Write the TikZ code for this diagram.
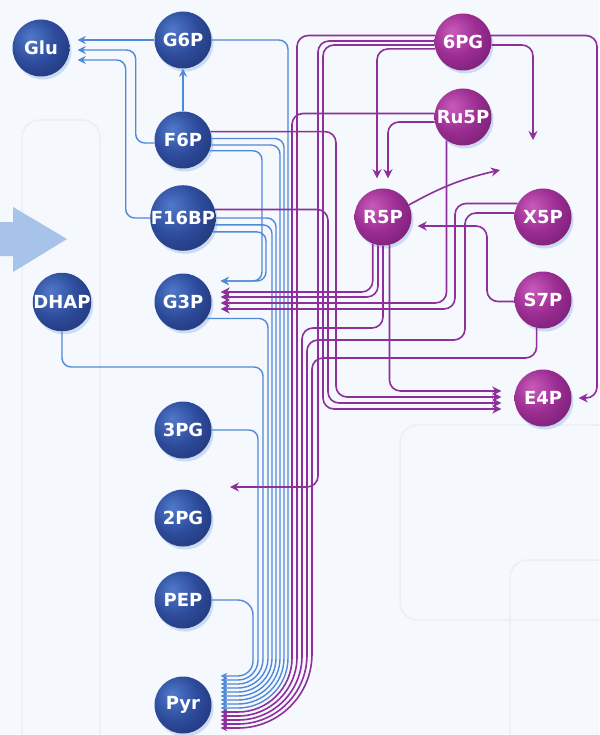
\documentclass[tikz,border=0pt]{standalone}
\usepackage{fontspec}
\setmainfont{DejaVu Sans}
\usetikzlibrary{arrows.meta,calc,shadows}
\definecolor{bgc}{HTML}{F5F8FC}
\definecolor{faintc}{HTML}{EAEFF7}
\definecolor{bline}{HTML}{5089D8}
\definecolor{pline}{HTML}{8E2F9C}
\definecolor{bigarrow}{HTML}{A8C3EA}
\definecolor{bl1}{HTML}{5079CB}
\definecolor{bl2}{HTML}{2E4C9C}
\definecolor{bl3}{HTML}{1A2C68}
\definecolor{pu1}{HTML}{C85BBA}
\definecolor{pu2}{HTML}{9B2D92}
\definecolor{pu3}{HTML}{671866}
\pgfdeclareradialshading{blueball}{\pgfpoint{-10bp}{10bp}}{color(0bp)=(bl1); color(20bp)=(bl2); color(44bp)=(bl3); color(70bp)=(bl3)}
\pgfdeclareradialshading{purpball}{\pgfpoint{-10bp}{10bp}}{color(0bp)=(pu1); color(20bp)=(pu2); color(44bp)=(pu3); color(70bp)=(pu3)}
\begin{document}
\begin{tikzpicture}[x=1pt,y=-1pt,
  bl/.style={draw=bline,line width=1.4pt,rounded corners=9pt},
  bla/.style={bl,-{Stealth[length=8pt,width=8pt]}},
  bb/.style={bl,-{Stealth[length=6.5pt,width=6.5pt]}},
  pp/.style={draw=pline,line width=1.6pt,rounded corners=11pt},
  ppa/.style={pp,-{Stealth[length=9pt,width=9pt]}},
  pb/.style={pp,-{Stealth[length=6.5pt,width=6.5pt]}},
  faint/.style={draw=faintc,line width=1.5pt,rounded corners=18pt},
  ball/.style={circle,minimum size=57pt,inner sep=0pt,text=white,
    font=\bfseries\fontsize{18}{18}\selectfont,
    drop shadow={shadow xshift=2pt,shadow yshift=-3pt,opacity=0.25,fill=bline}},
  ballb/.style={ball,shade,shading=blueball},
  ballp/.style={ball,shade,shading=purpball}]
\useasboundingbox (0,0) rectangle (599,735);
\fill[bgc] (0,0) rectangle (599,735);
% faint background outlines
\draw[faint] (22,120) rectangle (100,760);
\draw[faint] (400,425) rectangle (630,620);
\draw[faint] (510,560) rectangle (630,760);
% big entry arrow
\fill[bigarrow] (0,222) -- (13,222) -- (13,207) -- (67,239) -- (13,272) -- (13,256) -- (0,256) -- cycle;
% nodes
\node[ballb] (Glu) at (41,48) {Glu};
\node[ballb] (G6P) at (183,40) {G6P};
\node[ballb] (F6P) at (183,140) {F6P};
\node[ballb] (F16BP) at (183,218) {F16BP};
\node[ballb] (DHAP) at (62,302) {DHAP};
\node[ballb] (G3P) at (183,302) {G3P};
\node[ballb] (PG3) at (183,430) {3PG};
\node[ballb] (PG2) at (183,518) {2PG};
\node[ballb] (PEP) at (183,600) {PEP};
\node[ballb] (Pyr) at (183,705) {Pyr};
\node[ballp] (PG6) at (463,42) {6PG};
\node[ballp] (Ru5P) at (463,117) {Ru5P};
\node[ballp] (R5P) at (383,217) {R5P};
\node[ballp] (X5P) at (543,217) {X5P};
\node[ballp] (S7P) at (543,300) {S7P};
\node[ballp] (E4P) at (543,398) {E4P};
% arrow end points
\coordinate (gA) at ($(Glu.east)+(8,-8)$);
\coordinate (gB) at ($(Glu.east)+(8,2)$);
\coordinate (gC) at ($(Glu.east)+(8,12)$);
\coordinate (g3b) at ($(G3P.east)+(9,-21)$);
\coordinate (gp1) at ($(G3P.east)+(9,-10)$);
\coordinate (gp2) at ($(G3P.east)+(9,-5)$);
\coordinate (gp3) at ($(G3P.east)+(9,1)$);
\coordinate (gp4) at ($(G3P.east)+(9,7)$);
\foreach \i/\yy in {1/676,2/680,3/684,4/688,5/692,6/696,7/700,8/704,9/708,10/712,11/716,12/720,13/724,14/728}
  {\coordinate (py\i) at ($(Pyr.east)+(9,\yy-705)$);}
\coordinate (e1) at ($(E4P.west)+(-13,-7)$);
\coordinate (e2) at ($(E4P.west)+(-13,-1)$);
\coordinate (e3) at ($(E4P.west)+(-13,5)$);
\coordinate (e4) at ($(E4P.west)+(-13,11)$);
\coordinate (e4r) at ($(E4P.east)+(7,0)$);
\coordinate (r5t1) at ($(R5P.north)+(-6,-10)$);
\coordinate (r5t2) at ($(R5P.north)+(5,-10)$);
\coordinate (r5in) at ($(R5P.east)+(6,9)$);
\coordinate (r5out) at (500,170);
\coordinate (d6) at (533,140);
\coordinate (lft) at (230,487);
% ---- blue connectors ----
\draw[bla] (G6P.west) -- (gA);
\draw[bla] (F6P.186) -| ($(gB)+(58,0)$) -- (gB);
\draw[bla] (F16BP.west) -| ($(gC)+(48,0)$) -- (gC);
\draw[bla] (F6P.north) -- (G6P.south);
\draw[bla] (F6P.-22) -| (262,281) -- (g3b);
\draw[bla] (F16BP.-25) -| (266,281) -- (g3b);
% blue bundle into Pyr
\draw[bb,rounded corners=15pt] (PEP.east) -| (253,676) -- (py1);
\draw[bb] (PG3.east) -| (258,560) [rounded corners=20pt] -- (258,680) -- (py2);
\draw[bb] (DHAP.south) |- (263,367) -- (263,560) [rounded corners=25pt] -- (263,684) -- (py3);
\draw[bb] (G3P.-35) -| (268,560) [rounded corners=30pt] -- (268,688) -- (py4);
\draw[bb] (F16BP.-12) -| (272,560) [rounded corners=34pt] -- (272,692) -- (py5);
\draw[bb] (F16BP.east) -| (276,560) [rounded corners=38pt] -- (276,696) -- (py6);
\draw[bb] (F6P.-10) -| (280,560) [rounded corners=42pt] -- (280,700) -- (py7);
\draw[bb] (F6P.3) -| (284,560) [rounded corners=46pt] -- (284,704) -- (py8);
\draw[bb] (G6P.east) -| (288,560) [rounded corners=50pt] -- (288,708) -- (py9);
% ---- purple connectors ----
\draw[pb] (Ru5P.173) -| (292,600) [rounded corners=54pt] -- (292,712) -- (py10);
\draw[pb] (PG6.167) -| (297,600) [rounded corners=59pt] -- (297,716) -- (py11);
\draw[pb] (R5P.south) |- (302,328) -- (302,600) [rounded corners=64pt] -- (302,720) -- (py12);
\draw[pb] (X5P.172) -| (465,340) -- (307,340) -- (307,600) [rounded corners=69pt] -- (307,724) -- (py13);
\draw[pb] (S7P.257) |- (312,358) -- (312,600) [rounded corners=74pt] -- (312,728) -- (py14);
% into E4P
\draw[ppa] (R5P.283) |- (e1);
\draw[ppa] (F6P.17) -| (336,397) -- (e2);
\draw[ppa] (F16BP.15) -| (328,403) -- (e3);
\draw[ppa] (PG6.186) -| (323,409) -- (e4);
\draw[ppa] (PG6.13) -| (597,398) -- (e4r);
% others
\draw[ppa] (PG6.-6) -| (d6);
\draw[ppa] (PG6.178) -| (318,487) -- (lft);
\draw[ppa] (PG6.194) -| (r5t1);
\draw[ppa] (Ru5P.190) -| (r5t2);
\draw[ppa] (R5P.25) to[bend left=8] (r5out);
\draw[ppa] (S7P.183) -| (487,226) -- (r5in);
% into G3P
\draw[ppa] (R5P.249) |- (gp1);
\draw[ppa] (R5P.260) |- (gp2);
\draw[ppa] (Ru5P.235) |- (gp3);
\draw[ppa] (X5P.152) -| (455,309) -- (gp4);
\end{tikzpicture}
\end{document}
